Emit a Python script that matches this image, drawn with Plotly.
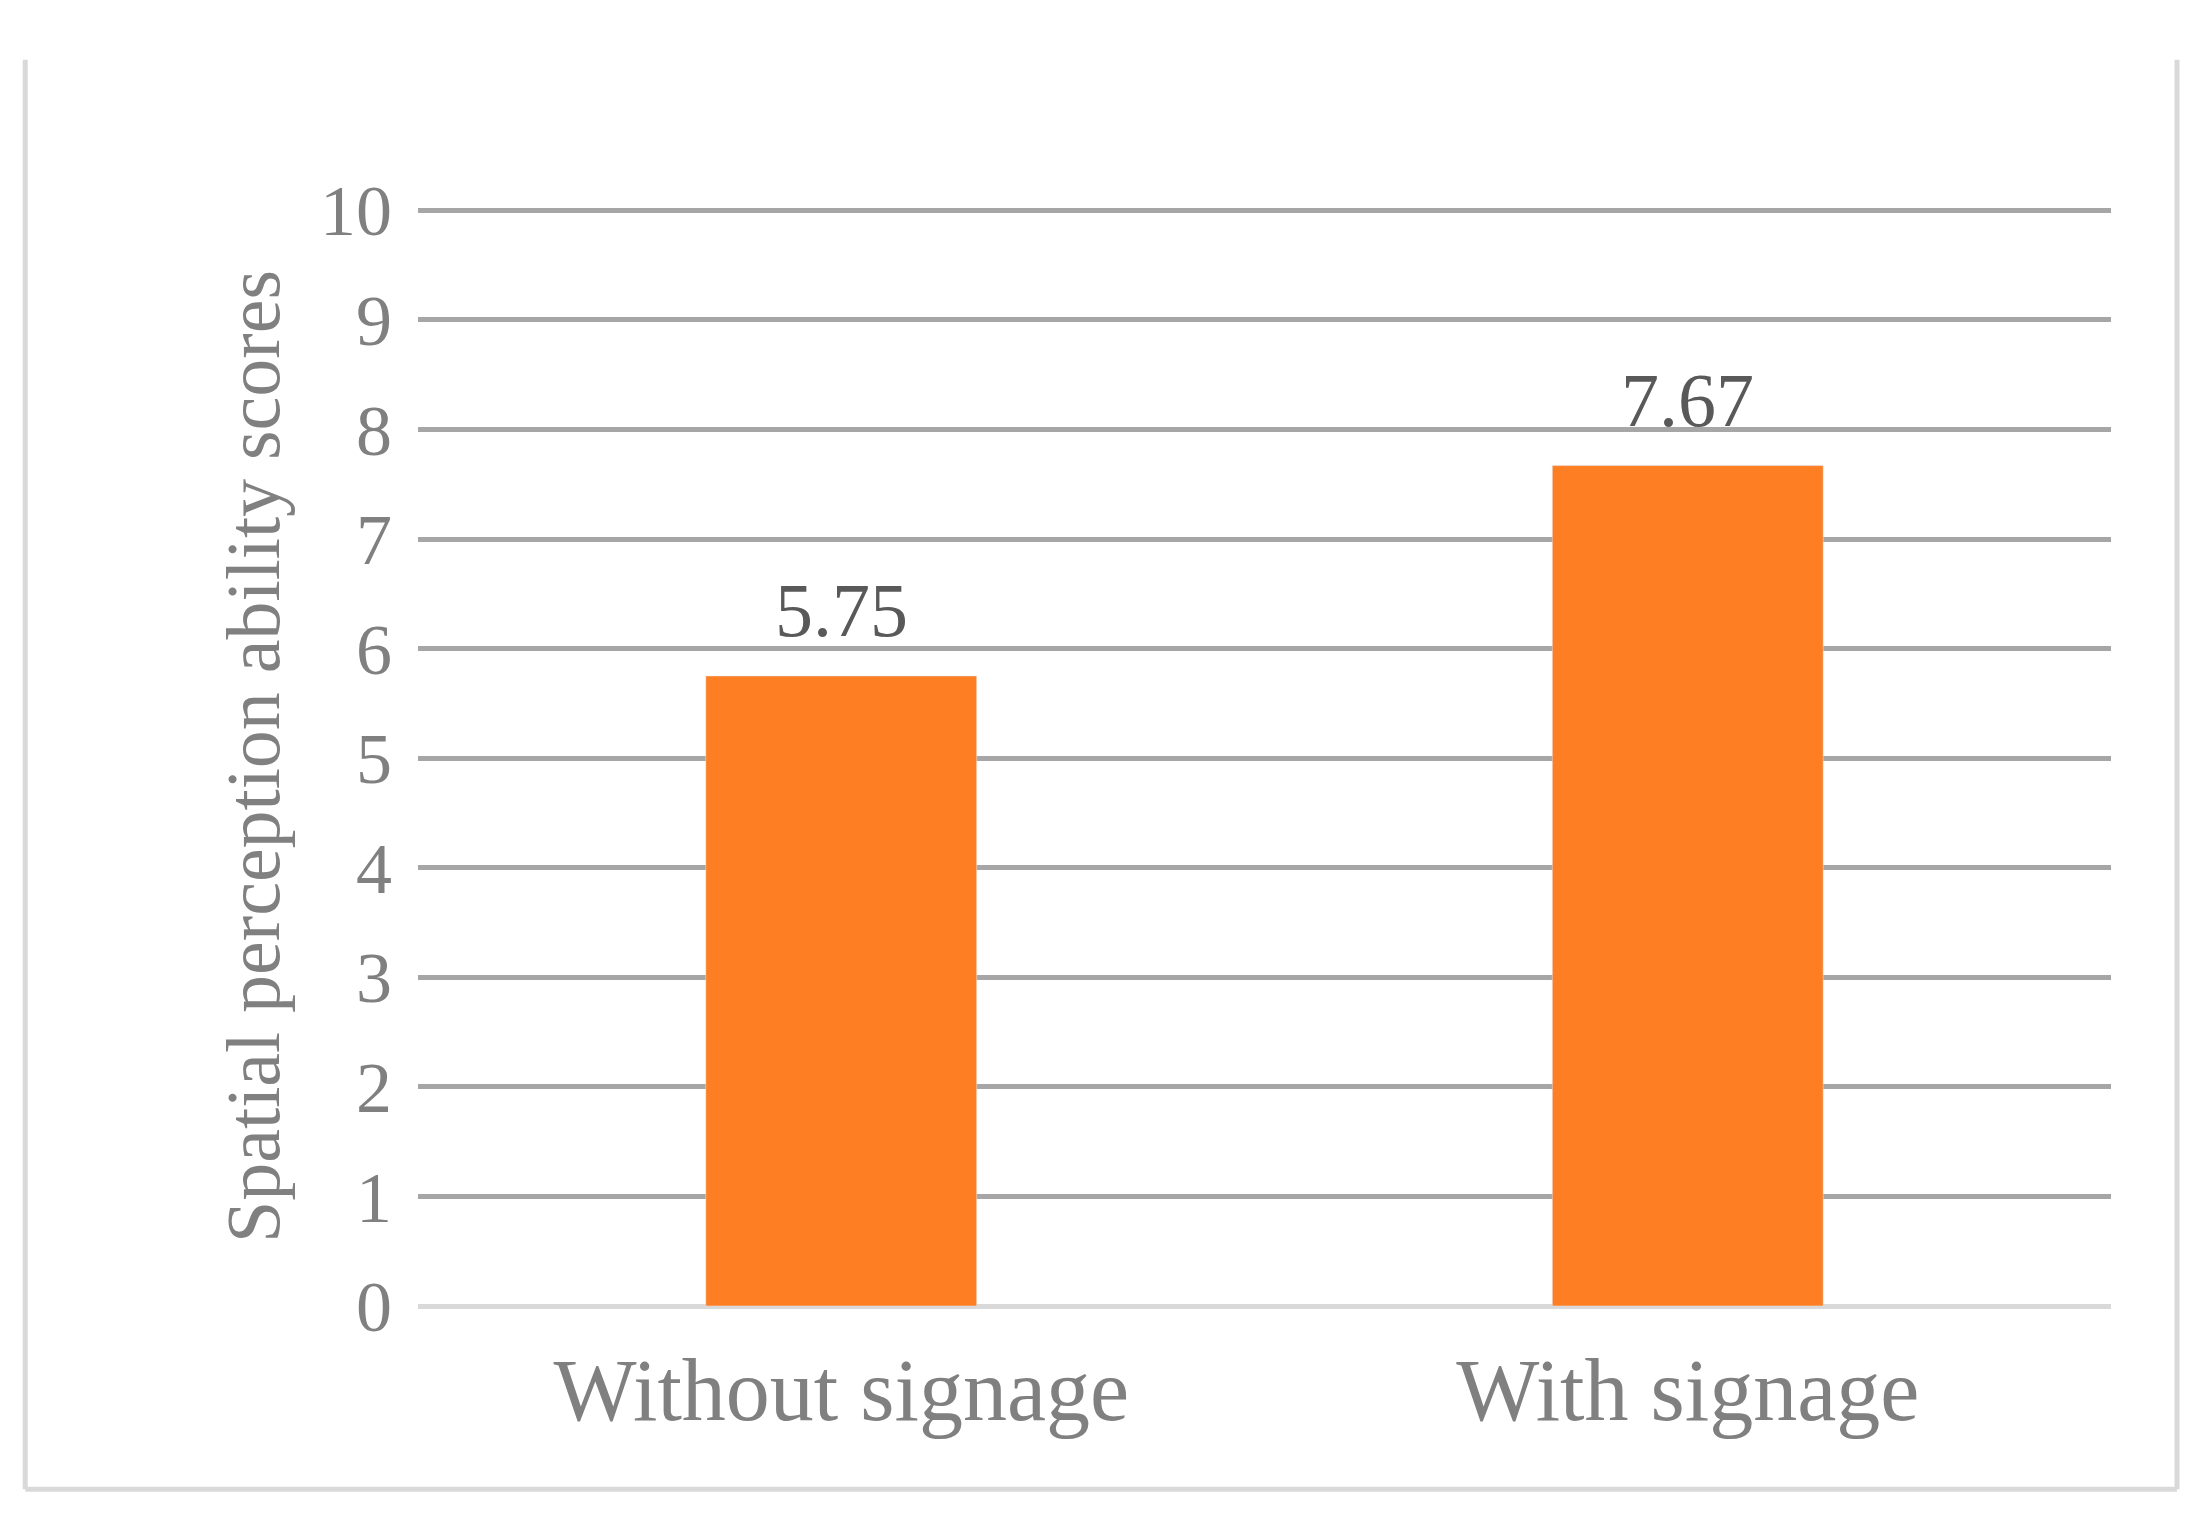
import plotly.graph_objects as go

categories = ["Without signage", "With signage"]
values = [5.75, 7.67]
labels = ["5.75", "7.67"]

fig = go.Figure(go.Bar(
    x=categories, y=values, marker_color="#FD7E23", width=0.32, cliponaxis=False,
))
for c, v, t in zip(categories, values, labels):
    fig.add_annotation(x=c, y=v, text=t, showarrow=False, yanchor="bottom",
                       yshift=22, font=dict(family="Liberation Serif", size=76, color="#595959"))

fig.update_layout(
    width=2208, height=1520,
    margin=dict(l=410, r=105, t=199, b=222),
    plot_bgcolor="white", paper_bgcolor="white",
    showlegend=False,
    font=dict(family="Liberation Serif", color="#808080"),
    xaxis=dict(tickfont=dict(size=88, color="#808080"), showgrid=False,
               showline=False, ticks="", ticklabelstandoff=25),
    yaxis=dict(range=[0, 10.03], tickvals=list(range(11)), tickfont=dict(size=72, color="#808080"),
               gridcolor="#A6A6A6", gridwidth=5, zeroline=True,
               zerolinecolor="#D9D9D9", zerolinewidth=5,
               ticklabelstandoff=25,
               title=dict(text="Spatial perception ability scores",
                          font=dict(size=76, color="#808080"), standoff=15)),
)

bc = "#D9D9D9"
for x0, y0, x1, y1 in [(-0.232, 1.134, -0.232, -0.1668),
                       (1.039, 1.134, 1.039, -0.1668),
                       (-0.232, -0.1668, 1.039, -0.1668)]:
    fig.add_shape(type="line", xref="paper", yref="paper", x0=x0, y0=y0,
                  x1=x1, y1=y1, line=dict(color=bc, width=5))

fig.write_html("out.html")
